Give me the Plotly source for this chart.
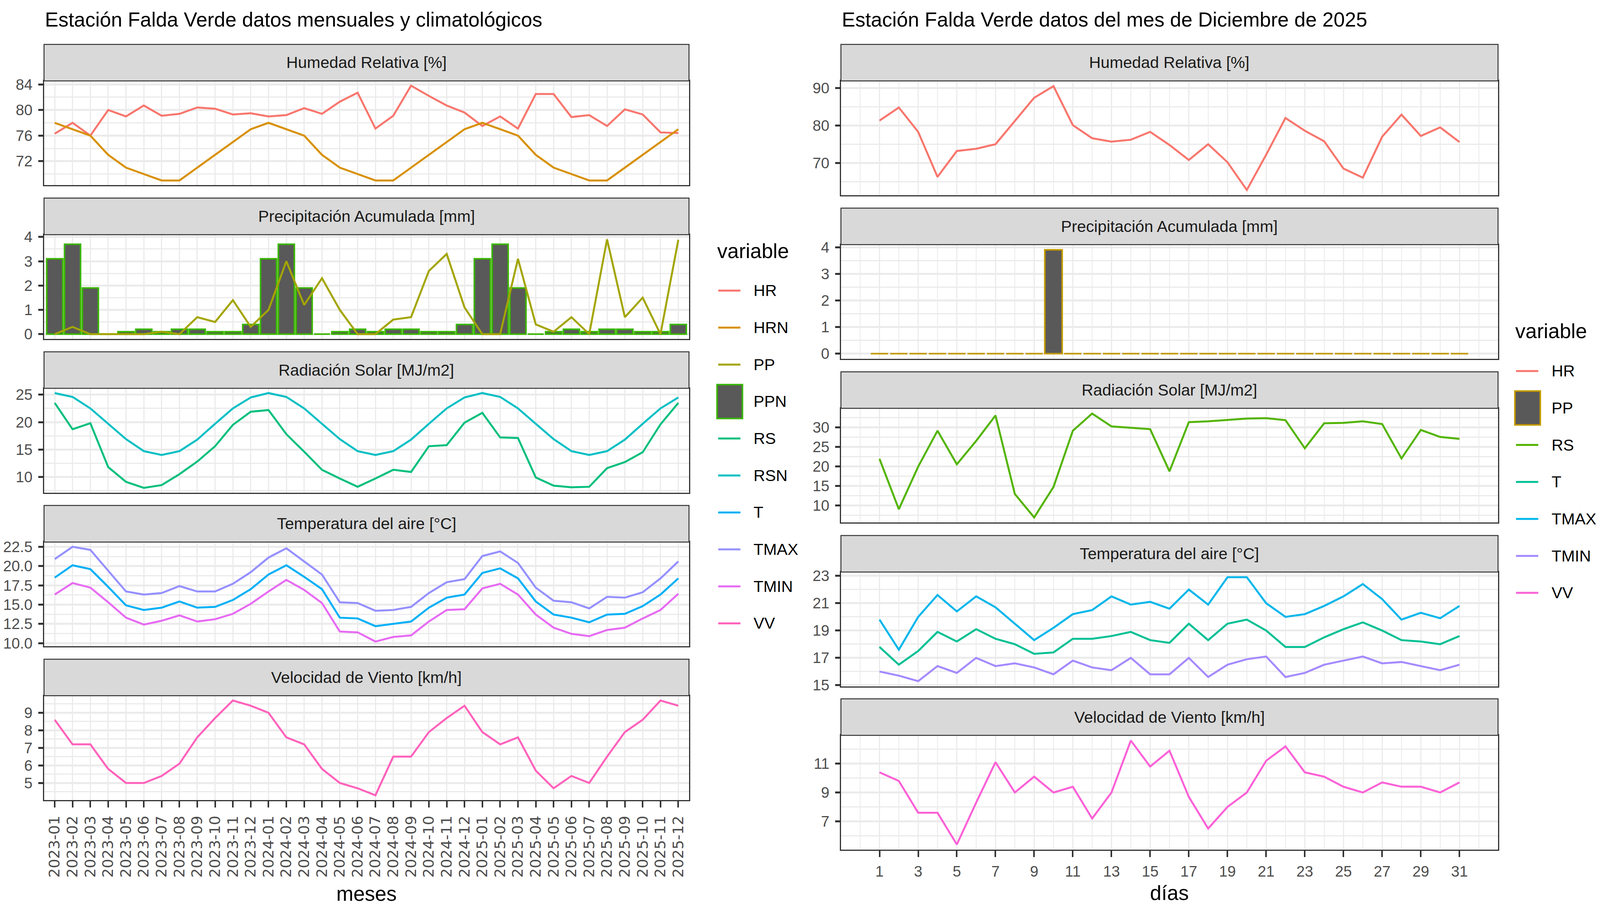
import os
import plotly.graph_objects as go

# ------------------------------------------------------------------ canvas
# Reference design coordinates (px of the 5511 x 2328 reference image).
REF_W, REF_H = 5511, 2328
# The browser viewport that photographs the page is 4096 px wide, 2328 px tall;
# the page body has an 8 px margin.
VIEW_W, VIEW_H = 4096, 2328
BODY = 8
FIG_W, FIG_H = VIEW_W - BODY, VIEW_H - BODY
SX = VIEW_W / REF_W          # horizontal squeeze of the reference layout
SY = VIEW_H / REF_H          # vertical scale (1.0)


def _has_font(token):
    token = token.lower()
    for root in ("/usr/share/fonts", "/usr/local/share/fonts",
                 os.path.expanduser("~/.fonts"), os.path.expanduser("~/.local/share/fonts")):
        for _dp, _dn, files in os.walk(root):
            for f in files:
                if token in f.lower().replace(" ", "").replace("-", ""):
                    return True
    return False


if _has_font("LiberationSansNarrow"):
    FONT = "Liberation Sans Narrow, Arial Narrow, Liberation Sans, Arial, sans-serif"
    FS = 1.0
else:
    FONT = "Liberation Sans, Arial, Helvetica, sans-serif"
    FS = 0.86
ROT_FONT = "DejaVu Sans, Verdana, sans-serif"

# ------------------------------------------------------------------ data
meses = ["2023-01", "2023-02", "2023-03", "2023-04", "2023-05", "2023-06",
         "2023-07", "2023-08", "2023-09", "2023-10", "2023-11", "2023-12",
         "2024-01", "2024-02", "2024-03", "2024-04", "2024-05", "2024-06",
         "2024-07", "2024-08", "2024-09", "2024-10", "2024-11", "2024-12",
         "2025-01", "2025-02", "2025-03", "2025-04", "2025-05", "2025-06",
         "2025-07", "2025-08", "2025-09", "2025-10", "2025-11", "2025-12"]

HR_mes = [76.3, 78.0, 76.0, 80.0, 79.0, 80.7, 79.1, 79.4, 80.4, 80.2, 79.3, 79.5,
          79.0, 79.2, 80.3, 79.4, 81.3, 82.7, 77.1, 79.1, 83.8, 82.2, 80.7, 79.6,
          77.5, 79.0, 77.1, 82.5, 82.5, 78.9, 79.2, 77.5, 80.1, 79.3, 76.5, 76.4]
HRN_mes = [78, 77, 76, 73, 71, 70, 69, 69, 71, 73, 75, 77,
           78, 77, 76, 73, 71, 70, 69, 69, 71, 73, 75, 77,
           78, 77, 76, 73, 71, 70, 69, 69, 71, 73, 75, 77]
PP_mes = [0.0, 0.3, 0.0, 0.0, 0.0, 0.0, 0.1, 0.0, 0.7, 0.5, 1.4, 0.3,
          1.0, 3.0, 1.2, 2.3, 1.0, 0.0, 0.0, 0.6, 0.7, 2.6, 3.3, 1.1,
          0.0, 0.0, 3.1, 0.4, 0.1, 0.7, 0.0, 3.9, 0.7, 1.5, 0.0, 3.88]
PPN_mes = [3.1, 3.7, 1.9, 0.0, 0.1, 0.2, 0.1, 0.2, 0.2, 0.1, 0.1, 0.4,
           3.1, 3.7, 1.9, 0.0, 0.1, 0.2, 0.1, 0.2, 0.2, 0.1, 0.1, 0.4,
           3.1, 3.7, 1.9, 0.0, 0.1, 0.2, 0.1, 0.2, 0.2, 0.1, 0.1, 0.4]
RS_mes = [23.5, 18.7, 19.8, 11.8, 9.1, 8.0, 8.5, 10.5, 12.8, 15.6, 19.5, 21.9,
          22.2, 17.8, 14.6, 11.3, 9.7, 8.2, 9.7, 11.3, 10.9, 15.6, 15.8, 19.9,
          21.7, 17.2, 17.1, 9.9, 8.4, 8.1, 8.2, 11.6, 12.7, 14.5, 19.6, 23.5]
RSN_mes = [25.3, 24.6, 22.5, 19.7, 16.9, 14.7, 14.0, 14.7, 16.8, 19.7, 22.5, 24.5,
           25.3, 24.6, 22.5, 19.7, 16.9, 14.7, 14.0, 14.7, 16.8, 19.7, 22.5, 24.5,
           25.3, 24.6, 22.5, 19.7, 16.9, 14.7, 14.0, 14.7, 16.8, 19.7, 22.5, 24.5]
T_mes = [18.5, 20.1, 19.6, 17.3, 14.9, 14.3, 14.6, 15.4, 14.6, 14.7, 15.6, 17.0,
         18.9, 20.1, 18.6, 17.0, 13.3, 13.2, 12.2, 12.5, 12.8, 14.6, 15.9, 16.3,
         19.1, 19.7, 18.4, 15.4, 13.7, 13.3, 12.7, 13.7, 13.8, 14.8, 16.3, 18.4]
TMAX_mes = [20.9, 22.5, 22.1, 19.4, 16.7, 16.3, 16.5, 17.4, 16.7, 16.7, 17.7, 19.2,
            21.1, 22.3, 20.6, 18.9, 15.3, 15.2, 14.2, 14.3, 14.7, 16.5, 17.9, 18.3,
            21.3, 21.9, 20.4, 17.2, 15.5, 15.3, 14.5, 16.0, 15.9, 16.6, 18.4, 20.6]
TMIN_mes = [16.3, 17.8, 17.2, 15.3, 13.3, 12.4, 12.9, 13.6, 12.8, 13.1, 13.8, 15.1,
            16.7, 18.2, 16.9, 15.2, 11.5, 11.4, 10.2, 10.8, 11.0, 12.8, 14.3, 14.4,
            17.1, 17.7, 16.3, 13.7, 12.0, 11.2, 10.9, 11.7, 12.0, 13.2, 14.3, 16.4]
VV_mes = [8.6, 7.2, 7.2, 5.8, 5.0, 5.0, 5.4, 6.1, 7.6, 8.7, 9.7, 9.4,
          9.0, 7.6, 7.2, 5.8, 5.0, 4.7, 4.3, 6.5, 6.5, 7.9, 8.7, 9.4,
          7.9, 7.2, 7.6, 5.7, 4.7, 5.4, 5.0, 6.5, 7.9, 8.6, 9.7, 9.4]

dias = [1, 2, 3, 4, 5, 6, 7, 8, 9, 10, 11, 12, 13, 14, 15, 16,
        17, 18, 19, 20, 21, 22, 23, 24, 25, 26, 27, 28, 29, 30, 31]
HR_dia = [81.3, 84.8, 78.3, 66.3, 73.2, 73.8, 75.0, 81.3, 87.4, 90.5, 80.1, 76.6,
          75.7, 76.2, 78.3, 74.8, 70.8, 75.0, 70.2, 62.8, 72.2, 82.0, 78.6, 75.8,
          68.5, 66.1, 77.0, 82.9, 77.2, 79.5, 75.6]
PP_dia = [0, 0, 0, 0, 0, 0, 0, 0, 0, 3.9, 0, 0, 0, 0, 0, 0,
          0, 0, 0, 0, 0, 0, 0, 0, 0, 0, 0, 0, 0, 0, 0]
RS_dia = [21.9, 9.0, 19.9, 29.1, 20.5, 26.5, 33.0, 12.9, 6.9, 14.7, 29.1, 33.5,
          30.2, 29.9, 29.5, 18.7, 31.3, 31.5, 31.8, 32.2, 32.3, 31.8, 24.6, 31.0,
          31.1, 31.5, 30.8, 22.0, 29.3, 27.5, 27.0]
T_dia = [17.8, 16.5, 17.5, 18.9, 18.2, 19.1, 18.4, 18.0, 17.3, 17.4, 18.4, 18.4,
         18.6, 18.9, 18.3, 18.1, 19.5, 18.3, 19.5, 19.8, 19.0, 17.8, 17.8, 18.5,
         19.1, 19.6, 19.0, 18.3, 18.2, 18.0, 18.6]
TMAX_dia = [19.8, 17.6, 20.0, 21.6, 20.4, 21.5, 20.7, 19.5, 18.3, 19.2, 20.2, 20.5,
            21.5, 20.9, 21.1, 20.6, 22.0, 20.9, 22.9, 22.9, 21.0, 20.0, 20.2, 20.8,
            21.5, 22.4, 21.3, 19.8, 20.3, 19.9, 20.8]
TMIN_dia = [16.0, 15.7, 15.3, 16.4, 15.9, 17.0, 16.4, 16.6, 16.3, 15.8, 16.8, 16.3,
            16.1, 17.0, 15.8, 15.8, 17.0, 15.6, 16.5, 16.9, 17.1, 15.6, 15.9, 16.5,
            16.8, 17.1, 16.6, 16.7, 16.4, 16.1, 16.5]
VV_dia = [10.4, 9.8, 7.6, 7.6, 5.4, 8.3, 11.1, 9.0, 10.1, 9.0, 9.4, 7.2,
          9.0, 12.6, 10.8, 11.9, 8.7, 6.5, 8.0, 9.0, 11.2, 12.2, 10.4, 10.1,
          9.4, 9.0, 9.7, 9.4, 9.4, 9.0, 9.7]

# ------------------------------------------------------------------ styling
GRID = "#EBEBEB"
BORDER = "#333333"
STRIP_FILL = "#D9D9D9"
TICK_COL = "#4D4D4D"
BAR_W = 0.9

LW = 5.0                       # data line width
TICK_FS = 45 * FS
STRIP_FS = 48 * FS
TITLE_FS = 60 * FS
AXT_FS = 61 * FS
LEG_FS = 48 * FS
ROT_FS = 38

LEFT_X = (124, 2357)
RIGHT_X = (2883, 5158)
LEFT_TOPS = [195, 594.5, 994, 1393.5, 1793]
LEFT_H = 271
RIGHT_TOPS = [195, 620.5, 1046, 1471.5, 1896]
RIGHT_H = 297
STRIP_H = 95


def fx(p, shift=0.0):
    """reference x (px) -> paper fraction"""
    return (p * SX + shift - BODY) / FIG_W


def fy(p):
    """reference y (px) -> paper fraction"""
    return 1 - (p * SY - BODY) / FIG_H


def names(n):
    s = "" if n == 1 else str(n)
    return "xaxis" + s, "yaxis" + s, "x" + s, "y" + s


def yrange(series):
    vals = [v for s in series for v in s]
    lo, hi = min(vals), max(vals)
    d = hi - lo
    return [lo - 0.05 * d, hi + 0.05 * d]


def minors(majors):
    step = majors[1] - majors[0]
    out = [majors[0] - step / 2]
    for a, b in zip(majors[:-1], majors[1:]):
        out.append((a + b) / 2)
    out.append(majors[-1] + step / 2)
    return out


fig = go.Figure()
layout = {}
shapes = []
annotations = []

left_panels = [
    ("Humedad Relativa [%]", [("HR", HR_mes, "#F8766D"), ("HRN", HRN_mes, "#D89000")],
     None, [72, 76, 80, 84], None),
    ("Precipitación Acumulada [mm]", [("PP", PP_mes, "#A3A500")],
     ("PPN", PPN_mes, "#39B600"), [0, 1, 2, 3, 4], None),
    ("Radiación Solar [MJ/m2]", [("RS", RS_mes, "#00BF7D"), ("RSN", RSN_mes, "#00BFC4")],
     None, [10, 15, 20, 25], None),
    ("Temperatura del aire [°C]", [("T", T_mes, "#00B0F6"), ("TMAX", TMAX_mes, "#9590FF"),
                                   ("TMIN", TMIN_mes, "#E76BF3")],
     None, [10, 12.5, 15, 17.5, 20, 22.5], ".1f"),
    ("Velocidad de Viento [km/h]", [("VV", VV_mes, "#FF62BC")],
     None, [5, 6, 7, 8, 9], None),
]

right_panels = [
    ("Humedad Relativa [%]", [("HR", HR_dia, "#F8766D")], None, [70, 80, 90], None),
    ("Precipitación Acumulada [mm]", [], ("PP", PP_dia, "#C49A00"), [0, 1, 2, 3, 4], None),
    ("Radiación Solar [MJ/m2]", [("RS", RS_dia, "#53B400")], None, [10, 15, 20, 25, 30], None),
    ("Temperatura del aire [°C]", [("T", T_dia, "#00C094"), ("TMAX", TMAX_dia, "#00B6EB"),
                                   ("TMIN", TMIN_dia, "#A58AFF")],
     None, [15, 17, 19, 21, 23], None),
    ("Velocidad de Viento [km/h]", [("VV", VV_dia, "#FB61D7")], None, [7, 9, 11], None),
]

# x range for the daily panels (continuous, expanded 5% around the bar extent)
d_lo, d_hi = min(dias) - BAR_W / 2, max(dias) + BAR_W / 2
d_pad = 0.05 * (d_hi - d_lo)
DAY_RANGE = [d_lo - d_pad, d_hi + d_pad]


def build(panels, xs, tops, height, xcat, first_n):
    for k, (title, lines, bar, yt, fmt) in enumerate(panels):
        n = first_n + k
        xa_name, ya_name, xref, yref = names(n)
        top, bottom = tops[k], tops[k] + height
        series = [s[1] for s in lines]
        if bar is not None:
            fig.add_trace(go.Bar(
                x=xcat, y=bar[1], width=BAR_W, name=bar[0],
                marker=dict(color="#595959", line=dict(color=bar[2], width=4)),
                xaxis=xref, yaxis=yref, showlegend=False))
            series = series + [bar[1], [0]]
        for nm, vals, col in lines:
            fig.add_trace(go.Scatter(
                x=xcat, y=vals, mode="lines", name=nm,
                line=dict(color=col, width=LW),
                xaxis=xref, yaxis=yref, showlegend=False))
        bottom_panel = (k == len(panels) - 1)
        common = dict(showline=True, mirror=True, linecolor=BORDER,
                      zeroline=False, showgrid=True, gridcolor=GRID,
                      tickcolor=BORDER,
                      tickfont=dict(size=TICK_FS, color=TICK_COL, family=FONT))
        if first_n == 1:
            xa = dict(common, domain=[fx(xs[0]), fx(xs[1])], anchor=yref,
                      type="category", categoryorder="array", categoryarray=meses,
                      tickmode="array", tickvals=meses, ticktext=meses,
                      range=[-0.6, len(meses) - 0.4], gridwidth=3,
                      linewidth=3, tickwidth=3.5, ticklen=16,
                      ticks="outside" if bottom_panel else "",
                      showticklabels=bottom_panel, tickangle=-90,
                      ticklabelstandoff=6,
                      tickfont=dict(size=ROT_FS, color=TICK_COL, family=ROT_FONT))
        else:
            xa = dict(common, domain=[fx(xs[0]), fx(xs[1])], anchor=yref,
                      range=DAY_RANGE, tickvals=dias[::2], gridwidth=3,
                      linewidth=3, tickwidth=3.5, ticklen=16,
                      minor=dict(tickvals=dias[1::2] + [0, 32], showgrid=True,
                                 gridcolor=GRID, gridwidth=2),
                      ticks="outside" if bottom_panel else "",
                      showticklabels=bottom_panel, ticklabelstandoff=4)
        ya = dict(common, domain=[fy(bottom), fy(top)], anchor=xref,
                  range=yrange(series), tickvals=yt, gridwidth=5,
                  linewidth=2.5, tickwidth=5, ticklen=12,
                  minor=dict(tickvals=minors(yt), showgrid=True,
                             gridcolor=GRID, gridwidth=2.5),
                  ticks="outside", ticklabelstandoff=7)
        if fmt:
            ya["tickformat"] = fmt
        layout[xa_name] = xa
        layout[ya_name] = ya
        # facet strip
        shapes.append(dict(type="rect", xref="paper", yref="paper",
                           x0=fx(xs[0]), x1=fx(xs[1]),
                           y0=fy(top), y1=fy(top - STRIP_H),
                           fillcolor=STRIP_FILL, line=dict(color=BORDER, width=2.5),
                           layer="above"))
        annotations.append(dict(text=title, xref="paper", yref="paper",
                                x=fx((xs[0] + xs[1]) / 2), y=fy(top - STRIP_H / 2),
                                xanchor="center", yanchor="middle", showarrow=False,
                                font=dict(size=STRIP_FS, color="#1A1A1A", family=FONT)))


build(left_panels, LEFT_X, LEFT_TOPS, LEFT_H, meses, 1)
build(right_panels, RIGHT_X, RIGHT_TOPS, RIGHT_H, dias, 6)


def text(t, x, y, size, anchor="left", color="black", shift=0.0):
    annotations.append(dict(text=t, xref="paper", yref="paper", x=fx(x, shift), y=fy(y),
                            xanchor=anchor, yanchor="middle", showarrow=False,
                            font=dict(size=size, color=color, family=FONT)))


# titles (baseline at ~53 px in the reference)
text("Estación Falda Verde datos mensuales y climatológicos", LEFT_X[0],
     53 - 0.35 * TITLE_FS, TITLE_FS)
text("Estación Falda Verde datos del mes de Diciembre de 2025", RIGHT_X[0],
     53 - 0.35 * TITLE_FS, TITLE_FS)
# axis titles
text("meses", (LEFT_X[0] + LEFT_X[1]) / 2, 2308, AXT_FS, anchor="center")
text("días", (RIGHT_X[0] + RIGHT_X[1]) / 2, 2306, AXT_FS, anchor="center")

# legends (ggplot-style keys)
left_keys = [("HR", "#F8766D", "line"), ("HRN", "#D89000", "line"), ("PP", "#A3A500", "line"),
             ("PPN", "#39B600", "box"), ("RS", "#00BF7D", "line"), ("RSN", "#00BFC4", "line"),
             ("T", "#00B0F6", "line"), ("TMAX", "#9590FF", "line"), ("TMIN", "#E76BF3", "line"),
             ("VV", "#FF62BC", "line")]
right_keys = [("HR", "#F8766D", "line"), ("PP", "#C49A00", "box"), ("RS", "#53B400", "line"),
              ("T", "#00C094", "line"), ("TMAX", "#00B6EB", "line"), ("TMIN", "#A58AFF", "line"),
              ("VV", "#FB61D7", "line")]


def legend(keys, x0, title_y, first_y, shift=0.0, step=96.1):
    text("variable", x0, title_y, AXT_FS, shift=shift)
    for i, (lab, col, kind) in enumerate(keys):
        yc = first_y + i * step
        if kind == "line":
            shapes.append(dict(type="line", xref="paper", yref="paper",
                               x0=fx(x0 + 6, shift), x1=fx(x0 + 83, shift),
                               y0=fy(yc), y1=fy(yc),
                               line=dict(color=col, width=LW)))
        else:
            shapes.append(dict(type="rect", xref="paper", yref="paper",
                               x0=fx(x0 + 2, shift), x1=fx(x0 + 90, shift),
                               y0=fy(yc + 44), y1=fy(yc - 44),
                               fillcolor="#595959", line=dict(color=col, width=4)))
        text(lab, x0 + 126, yc, LEG_FS, shift=shift)


legend(left_keys, 2452, 637, 740)
legend(right_keys, 5252, 845, 949, shift=-28)

fig.update_layout(width=FIG_W, height=FIG_H, margin=dict(l=0, r=0, t=0, b=0),
                  paper_bgcolor="white", plot_bgcolor="white",
                  font=dict(family=FONT), showlegend=False, barmode="overlay",
                  shapes=shapes, annotations=annotations, **layout)

fig.write_html("out.html")
